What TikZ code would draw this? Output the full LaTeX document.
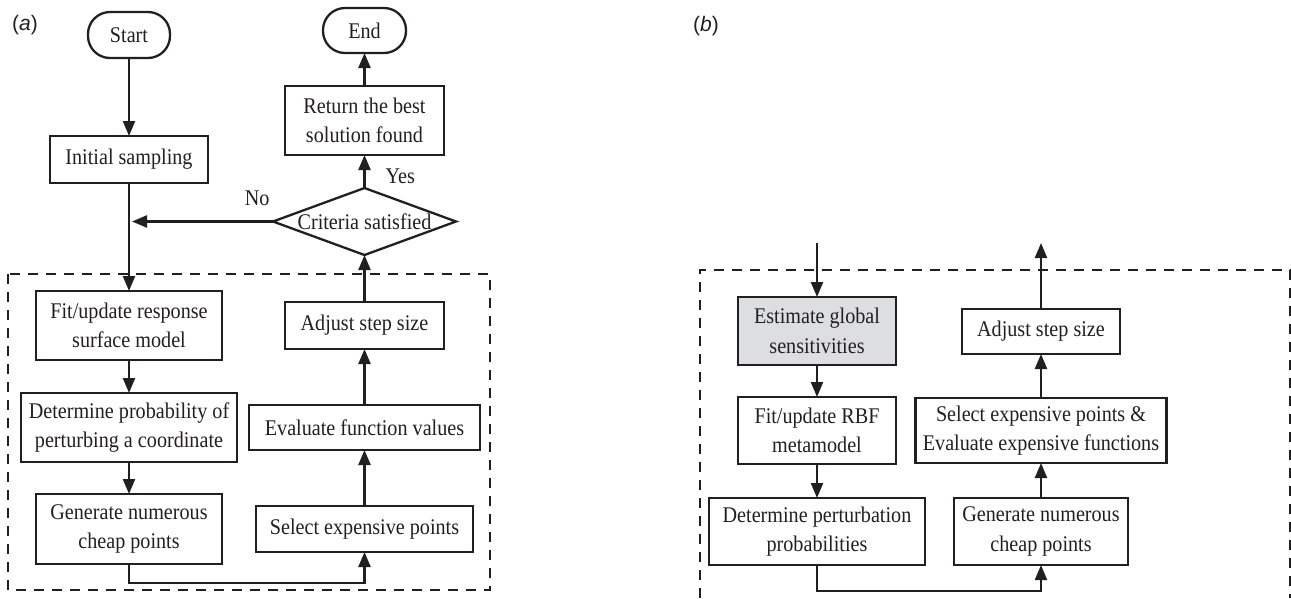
\documentclass[tikz,border=0pt]{standalone}
\usepackage{fontspec}
\setmainfont{Liberation Serif}[FakeStretch=0.9]
\newfontfamily\panelfont{Liberation Sans}
\usetikzlibrary{arrows.meta,positioning,shapes.geometric}
\definecolor{ink}{RGB}{35,31,32}
\definecolor{shade}{RGB}{221,222,224}
\newcommand{\boxfont}{\fontsize{22.4}{29.5}\selectfont}

\begin{document}
\begin{tikzpicture}[
    x=1pt, y=-1pt,
    process/.style={
      rectangle, draw=ink, line width=2.3pt, text=ink,
      font=\boxfont, align=center, inner sep=0pt, outer sep=0pt
    },
    terminal/.style={
      process, rounded corners=22pt
    },
    decision/.style={
      diamond, draw=ink, line width=2.3pt, text=ink, font=\boxfont,
      inner sep=0pt, outer sep=0pt, aspect=3,
      minimum width=183pt, minimum height=67pt
    },
    flow/.style={
      -{Triangle[length=15pt,width=12pt]}, line width=2.3pt, ink
    },
    loopbox/.style={
      draw=ink, line width=2.3pt, dash pattern=on 10pt off 8pt
    },
    lbl/.style={font=\boxfont, text=ink, inner sep=0pt},
    panel/.style={font=\panelfont\fontsize{21}{25}\selectfont, text=ink}
  ]
  \useasboundingbox (0,0) rectangle (1291,598);

  % --- (a): left column ---
  \node[panel] (labA) at (25,25) {(\textit{a})};
  \node[terminal, minimum width=82pt, minimum height=46pt] (startA) at (129,35) {Start};
  \node[process, minimum width=158pt, minimum height=47pt, below=78pt of startA] (initA) {Initial sampling};
  \node[process, minimum width=186pt, minimum height=69pt, below=108pt of initA] (fitA) {Fit/update response\\surface model};
  \node[process, minimum width=216pt, minimum height=69pt, below=33pt of fitA] (probA) {Determine probability of\\perturbing a coordinate};
  \node[process, minimum width=186pt, minimum height=70pt, below=32pt of probA] (cheapA) {Generate numerous\\cheap points};

  % --- (a): right column ---
  \node[terminal, minimum width=83pt, minimum height=45pt] (endA) at (364.5,30.5) {End};
  \node[process, minimum width=159pt, minimum height=69pt, below=33pt of endA] (bestA) {Return the best\\solution found};
  \node[decision, below=33pt of bestA] (critA) {Criteria satisfied};
  \node[process, minimum width=159pt, minimum height=47pt, below=47pt of critA] (stepA) {Adjust step size};
  \node[process, minimum width=231pt, minimum height=45pt, below=56pt of stepA] (evalA) {Evaluate function values};
  \node[process, minimum width=217pt, minimum height=46pt, below=56pt of evalA] (selA) {Select expensive points};

  \draw[flow] (startA) -- (initA);
  \draw[flow] (initA) -- (fitA);
  \draw[flow] (fitA) -- (probA);
  \draw[flow] (probA) -- (cheapA);
  \draw[flow] (cheapA.south) -- ++(0,19) -| (selA.south);
  \draw[flow] (selA) -- (evalA);
  \draw[flow] (evalA) -- (stepA);
  \draw[flow] (stepA) -- (critA);
  \draw[flow] (critA) -- node[lbl, pos=0.36, right=20pt] {Yes} (bestA);
  \draw[flow, shorten >=3pt] (critA.west) -- node[lbl, pos=0.11, above=15pt] {No} (critA.west -| initA.south);
  \draw[flow] (bestA) -- (endA);

  \draw[loopbox] (8,274) rectangle (490,590);

  % --- (b) ---
  \node[panel] (labB) at (706,26) {(\textit{b})};
  \node[process, fill=shade, minimum width=158pt, minimum height=68pt] (sensB) at (817,331) {Estimate global\\sensitivities};
  \node[process, minimum width=158pt, minimum height=67pt, below=32pt of sensB] (fitB) {Fit/update RBF\\metamodel};
  \node[process, minimum width=216pt, minimum height=67pt, below=34pt of fitB] (probB) {Determine perturbation\\probabilities};
  \node[process, minimum width=174pt, minimum height=67pt, right=29pt of probB] (cheapB) {Generate numerous\\cheap points};
  \node[process, minimum width=251pt, minimum height=65pt, above=35pt of cheapB] (selB) {Select expensive points \&\\Evaluate expensive functions};
  \node[process, minimum width=158pt, minimum height=45pt, above=44pt of selB] (stepB) {Adjust step size};
  \coordinate (inB) at (817,243);
  \coordinate (outB) at (1041,243);

  \draw[flow] (inB) -- (sensB);
  \draw[flow] (sensB) -- (fitB);
  \draw[flow] (fitB) -- (probB);
  \draw[flow] (probB.south) -- ++(0,26) -| (cheapB.south);
  \draw[flow] (cheapB) -- (selB);
  \draw[flow] (selB) -- (stepB);
  \draw[flow] (stepB) -- (outB);

  \draw[loopbox] (700,598) -- (700,270) -- (1290,270) -- (1290,598);
\end{tikzpicture}
\end{document}
